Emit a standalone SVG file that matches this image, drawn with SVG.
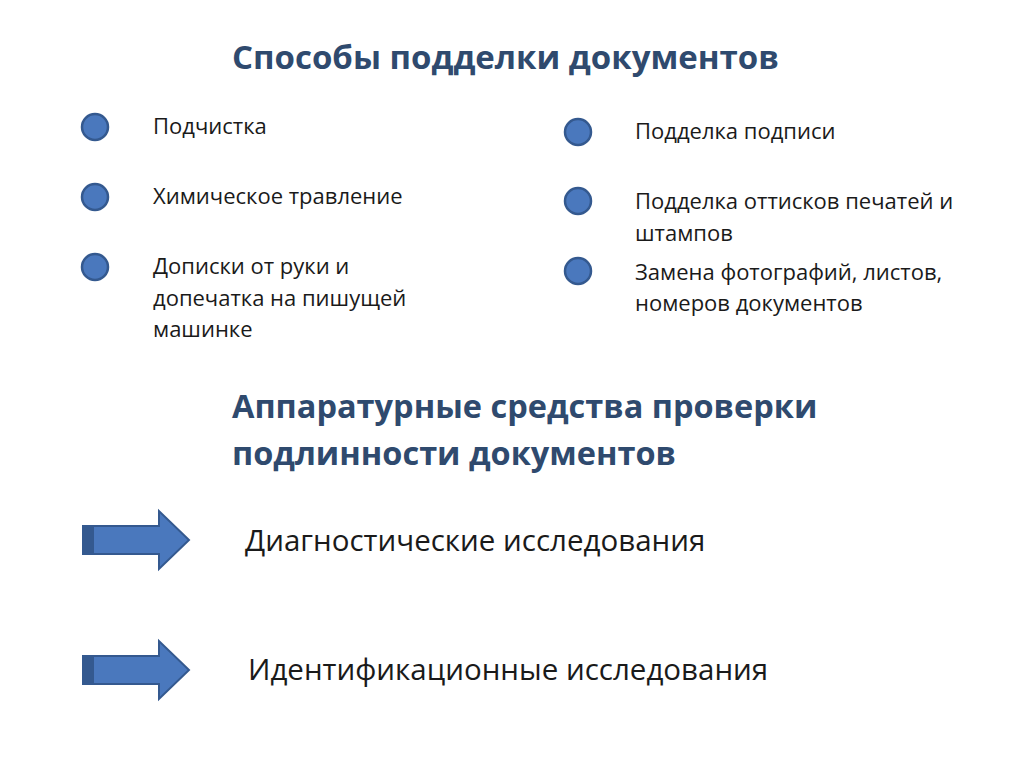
<svg xmlns="http://www.w3.org/2000/svg" width="1024" height="767" viewBox="0 0 1024 767">
<style>
.h{font-family:"Open Sans","Liberation Sans",sans-serif;font-weight:bold;fill:#2f4a6e}
.t{font-family:"Open Sans","Liberation Sans",sans-serif;font-size:22px;fill:#1a1a1a}
.b{font-family:"Open Sans","Liberation Sans",sans-serif;font-size:29.5px;fill:#1a1a1a}
.dot{fill:#4a78bd;stroke:#34598f;stroke-width:2.5}
.arr{fill:#4a78bd;stroke:#34598f;stroke-width:2}
</style>
<rect width="1024" height="767" fill="#fff"/>
<text class="h" x="232" y="69" font-size="33">Способы подделки документов</text>
<g id="n1"><circle class="dot" cx="95" cy="127" r="13"/><text class="t" x="153" y="134">Подчистка</text></g>
<g id="n2"><circle class="dot" cx="95" cy="197" r="13"/><text class="t" x="153" y="204">Химическое травление</text></g>
<g id="n3"><circle class="dot" cx="95" cy="267" r="13"/><text class="t" x="153" y="274">Дописки от руки и</text><text class="t" x="153" y="306">допечатка на пишущей</text><text class="t" x="153" y="337">машинке</text></g>
<g id="n4"><circle class="dot" cx="578" cy="132" r="13"/><text class="t" x="635" y="139">Подделка подписи</text></g>
<g id="n5"><circle class="dot" cx="578" cy="201" r="13"/><text class="t" x="635" y="209">Подделка оттисков печатей и</text><text class="t" x="635" y="241">штампов</text></g>
<g id="n6"><circle class="dot" cx="578" cy="271" r="13"/><text class="t" x="635" y="280">Замена фотографий, листов,</text><text class="t" x="635" y="311">номеров документов</text></g>
<text class="h" x="232" y="418" font-size="32.5">Аппаратурные средства проверки</text>
<text class="h" x="232" y="465" font-size="32.5">подлинности документов</text>
<g id="connectors">
<g id="a1"><polygon class="arr" points="83,526 159,526 159,511 189,540 159,569 159,554 83,554"/><rect x="84" y="527" width="10" height="26" fill="#34598f"/></g>
<g id="a2"><polygon class="arr" points="83,656 159,656 159,641 189,670 159,699 159,684 83,684"/><rect x="84" y="657" width="10" height="26" fill="#34598f"/></g>
</g>
<g id="n7"><text class="b" x="245" y="551">Диагностические исследования</text></g>
<g id="n8"><text class="b" x="248" y="680">Идентификационные исследования</text></g>
</svg>
